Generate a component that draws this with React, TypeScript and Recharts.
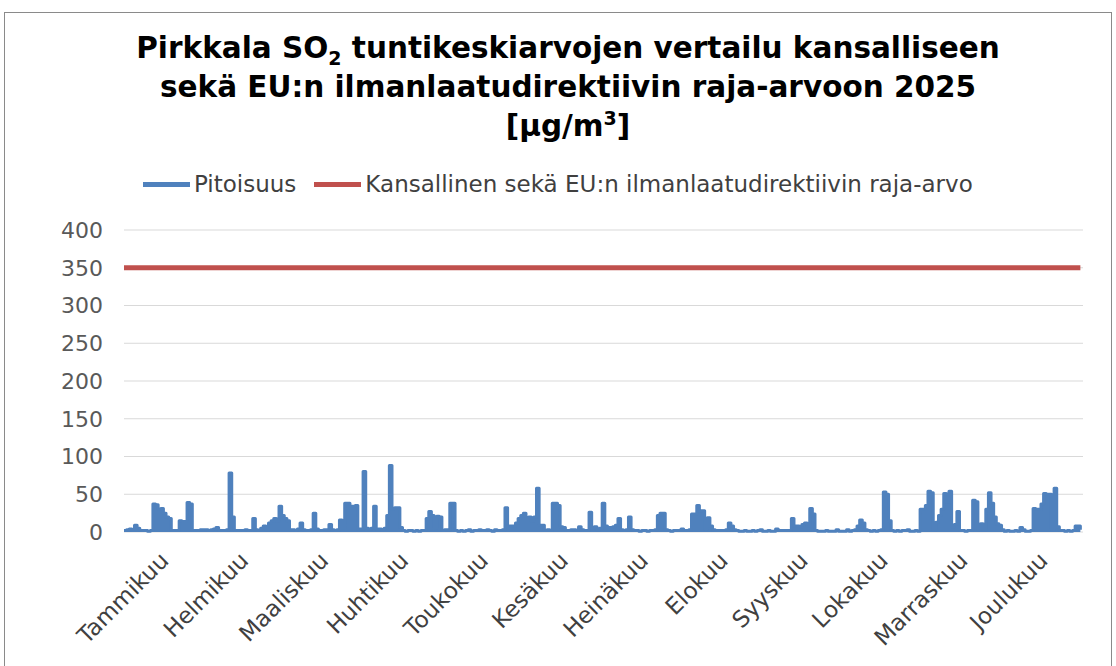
import React from 'react';
import {
  ComposedChart,
  Area,
  Line,
  XAxis,
  YAxis,
  CartesianGrid,
} from 'recharts';

// SO2 daily peaks, one array per month
const janValues = [2, 3, 4, 2, 9, 5, 2, 2, 2, 1, 2, 37, 36, 30, 31, 25, 20, 18, 2, 2, 2, 15, 14, 14, 39, 37, 2, 2, 2, 3, 3];
const febValues = [3, 2, 3, 4, 6, 2, 2, 2, 3, 78, 20, 2, 2, 2, 2, 3, 2, 2, 18, 3, 2, 5, 8, 3, 12, 15, 18, 15];
const marValues = [34, 22, 18, 15, 3, 3, 2, 4, 12, 3, 2, 2, 3, 25, 4, 2, 2, 3, 3, 10, 3, 2, 3, 16, 5, 38, 38, 34, 34, 35, 4];
const aprValues = [4, 80, 5, 4, 5, 34, 4, 4, 3, 5, 22, 88, 30, 32, 32, 6, 2, 1, 2, 2, 1, 2, 1, 2, 2, 18, 27, 22, 5, 21];
const mayValues = [20, 2, 3, 3, 38, 38, 2, 1, 2, 1, 2, 3, 1, 2, 2, 3, 2, 2, 3, 2, 1, 3, 2, 2, 3, 32, 8, 8, 8, 12, 18];
const junValues = [22, 25, 18, 20, 15, 20, 58, 9, 9, 2, 3, 2, 38, 38, 35, 7, 6, 2, 2, 3, 3, 2, 7, 3, 2, 2, 26, 5, 7, 3];
const julValues = [5, 38, 8, 6, 6, 7, 9, 18, 3, 2, 3, 20, 3, 2, 2, 1, 2, 2, 1, 2, 2, 3, 22, 25, 25, 3, 2, 1, 2, 2, 2];
const augValues = [4, 2, 2, 3, 24, 24, 35, 28, 28, 4, 19, 8, 3, 2, 2, 2, 2, 3, 12, 8, 3, 2, 1, 1, 2, 1, 1, 2, 1, 2, 3];
const sepValues = [1, 1, 2, 1, 1, 4, 2, 2, 2, 2, 2, 18, 8, 8, 7, 10, 12, 8, 31, 24, 2, 1, 1, 1, 2, 1, 1, 1, 3, 1];
const octValues = [1, 1, 3, 1, 2, 3, 8, 16, 12, 3, 2, 1, 2, 1, 2, 3, 53, 50, 15, 2, 1, 2, 1, 2, 2, 3, 1, 1, 2, 1, 30];
const novValues = [30, 35, 54, 52, 3, 13, 22, 30, 51, 40, 54, 7, 10, 27, 2, 2, 1, 2, 2, 42, 40, 3, 11, 3, 30, 52, 38, 20, 11, 9];
const decValues = [3, 1, 2, 1, 1, 2, 1, 6, 3, 1, 1, 2, 31, 30, 30, 37, 51, 50, 50, 3, 58, 7, 2, 2, 1, 2, 1, 2, 8, 8, 3];

const monthLabels = [
  'Tammikuu', 'Helmikuu', 'Maaliskuu', 'Huhtikuu', 'Toukokuu', 'Kesäkuu',
  'Heinäkuu', 'Elokuu', 'Syyskuu', 'Lokakuu', 'Marraskuu', 'Joulukuu',
];

const limitValue = 350;
const yTicks = [0, 50, 100, 150, 200, 250, 300, 350, 400];

const months = [
  janValues, febValues, marValues, aprValues, mayValues, junValues,
  julValues, augValues, sepValues, octValues, novValues, decValues,
];

const data = months.flat().map((value, day) => ({ day, value, limit: limitValue }));
const totalDays = data.length;
const monthTicks = monthLabels.map((_, i) => ((i + 0.5) * totalDays) / 12);

const BLUE = '#4F81BD';
const RED = '#C0504D';
const FONT = '"DejaVu Sans", sans-serif';

const MonthTick = ({ x, y, index }: any) => (
  <text
    x={x + 6}
    y={y + 22}
    transform={`rotate(-45 ${x + 6} ${y + 22})`}
    textAnchor="end"
    fill="#404040"
    fontSize={23}
    fontFamily={FONT}
  >
    {monthLabels[index]}
  </text>
);

export default function App() {
  return (
    <div style={{ position: 'fixed', left: 0, top: 0, width: 1116, height: 666, background: '#fff' }}>
      <div
        style={{
          position: 'absolute',
          left: 4,
          top: 12,
          width: 1108,
          height: 660,
          border: '1px solid #8a8a8a',
          boxSizing: 'border-box',
        }}
      />
      <div
        style={{
          position: 'absolute',
          left: 0,
          top: 29,
          width: 1136,
          textAlign: 'center',
          fontFamily: FONT,
          fontWeight: 'bold',
          fontSize: 29.5,
          lineHeight: '39px',
          color: '#000',
        }}
      >
        <div>
          Pirkkala SO<sub style={{ fontSize: 19, verticalAlign: '-7px', lineHeight: 0 }}>2</sub> tuntikeskiarvojen vertailu kansalliseen
        </div>
        <div>sekä EU:n ilmanlaatudirektiivin raja-arvoon 2025</div>
        <div>
          [µg/m<sup style={{ fontSize: 19, verticalAlign: '11px', lineHeight: 0 }}>3</sup>]
        </div>
      </div>

      {/* legend */}
      <div
        style={{
          position: 'absolute',
          left: 143,
          top: 171,
          display: 'flex',
          alignItems: 'center',
          fontFamily: FONT,
          fontSize: 23,
          color: '#404040',
          whiteSpace: 'nowrap',
        }}
      >
        <span style={{ display: 'inline-block', width: 47, height: 5, background: BLUE, marginRight: 4 }} />
        <span>Pitoisuus</span>
        <span style={{ display: 'inline-block', width: 47, height: 5, background: RED, marginLeft: 18, marginRight: 4 }} />
        <span>Kansallinen sekä EU:n ilmanlaatudirektiivin raja-arvo</span>
      </div>

      <div style={{ position: 'absolute', left: 0, top: 0 }}>
        <ComposedChart
          width={1116}
          height={666}
          data={data}
          margin={{ top: 230, right: 33, bottom: 34, left: 64 }}
        >
          <CartesianGrid stroke="#D9D9D9" vertical={false} />
          <XAxis
            dataKey="day"
            type="number"
            domain={[0, totalDays]}
            ticks={monthTicks}
            interval={0}
            height={100}
            axisLine={false}
            tickLine={false}
            tick={<MonthTick />}
          />
          <YAxis
            domain={[0, 400]}
            ticks={yTicks}
            width={60}
            axisLine={false}
            tickLine={false}
            tickMargin={15}
            tick={{ fill: '#595959', fontSize: 22, fontFamily: FONT }}
          />
          <Area
            type="stepAfter"
            dataKey="value"
            stroke={BLUE}
            strokeWidth={3}
            strokeLinejoin="round"
            fill={BLUE}
            fillOpacity={1}
            dot={false}
            isAnimationActive={false}
          />
          <Line
            type="linear"
            dataKey="limit"
            stroke={RED}
            strokeWidth={5}
            dot={false}
            isAnimationActive={false}
          />
        </ComposedChart>
      </div>
    </div>
  );
}
